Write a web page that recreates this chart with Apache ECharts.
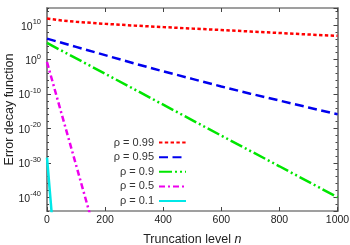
<!DOCTYPE html>
<html>
<head>
<meta charset="utf-8">
<script src="https://cdn.jsdelivr.net/npm/echarts@6/dist/echarts.min.js"></script>
<style>html,body{margin:0;padding:0;background:#fff;}#c{width:350px;height:245px;}</style>
</head>
<body>
<div id="c"></div>
<script>
// Truncation level n and log10 of the error decay function
const seriesNames = ['ρ = 0.99', 'ρ = 0.95', 'ρ = 0.9', 'ρ = 0.5', 'ρ = 0.1'];
const nRed = [0, 50, 100, 200, 300, 400, 500, 600, 700, 800, 900, 1000];
const expRed = [11.95, 11.4, 11.0, 10.4, 9.9, 9.45, 9.02, 8.6, 8.17, 7.74, 7.3, 6.9];
const nBlue = [0, 100, 200, 300, 400, 500, 600, 700, 800, 900, 1000];
const expBlue = [6.1, 3.7, 1.3, -1.1, -3.4, -5.6, -7.8, -9.9, -11.9, -13.9, -15.9];
const nGreen = [0, 200, 400, 600, 800, 1000];
const expGreen = [4.84, -4.1, -13.1, -22.1, -31.0, -40.0];
const nMagenta = [0, 50, 100, 150];
const expMagenta = [-0.7, -15.7, -30.6, -45.6];
const nCyan = [0, 10, 20];
const expCyan = [-28.5, -38.5, -48.5];
const xTicks = [0, 200, 400, 600, 800, 1000];

const pairs = (xs, ys) => xs.map((x, i) => [x, ys[i]]);
const FONT = 'Liberation Sans';
const axisColor = '#808080';

const styles = [
  {color: '#ff0000', type: [3.4, 2.4]},
  {color: '#0000ee', type: [9, 4.5]},
  {color: '#00e600', type: [13, 3, 2, 3, 2, 3]},
  {color: '#ee00ee', type: [6, 3, 2, 3]},
  {color: '#00e8e8', type: 'solid'}
];
const dataSets = [
  pairs(nRed, expRed), pairs(nBlue, expBlue), pairs(nGreen, expGreen),
  pairs(nMagenta, expMagenta), pairs(nCyan, expCyan)
];

const yMin = -44, yMax = 15;
const baseY = {
  type: 'value', min: yMin, max: yMax,
  axisLine: {show: true, onZero: false, lineStyle: {color: axisColor, width: 1.5}},
  splitLine: {show: false}
};
const baseX = {
  type: 'value', min: xTicks[0], max: xTicks[xTicks.length - 1], interval: 200,
  axisLine: {show: true, onZero: false, lineStyle: {color: axisColor, width: 1.5}},
  axisTick: {show: true, inside: true, length: 4, lineStyle: {color: '#444', width: 1}},
  splitLine: {show: false}
};
const chart = echarts.init(document.getElementById('c'), null, {renderer: 'canvas'});
chart.setOption({
  animation: false,
  backgroundColor: '#fff',
  grid: {left: 47, right: 12.5, top: 8, bottom: 34, containLabel: false, outerBoundsMode: 'none'},
  legend: {
    left: 97, top: 132, orient: 'vertical', align: 'right',
    itemWidth: 27, itemHeight: 14, itemGap: 3.4,
    data: seriesNames,
    itemStyle: {opacity: 0},
    formatter: name => '{t|' + name + '}',
    textStyle: {fontFamily: FONT, fontSize: 11, color: '#333',
      rich: {t: {width: 52, align: 'right', fontFamily: FONT, fontSize: 11, color: '#333', lineHeight: 14}}}
  },
  xAxis: [
    Object.assign({}, baseX, {
      position: 'bottom',
      name: 'Truncation level {i|n}', nameLocation: 'middle', nameGap: 22, nameMoveOverlap: false,
      nameTextStyle: {fontFamily: FONT, fontSize: 12.5, color: '#222',
        rich: {i: {fontStyle: 'italic', fontFamily: FONT, fontSize: 12.5, color: '#222'}}},
      axisLabel: {fontFamily: FONT, fontSize: 10.5, color: '#222', margin: 4, formatter: v => String(v)}
    }),
    Object.assign({}, baseX, {position: 'top', axisLabel: {show: false}})
  ],
  yAxis: [
    Object.assign({}, baseY, {
      position: 'left', splitNumber: 5,
      name: 'Error decay function', nameLocation: 'middle', nameGap: 31, nameRotate: 90, nameMoveOverlap: false,
      nameTextStyle: {fontFamily: FONT, fontSize: 12.5, color: '#222'},
      axisTick: {show: true, inside: true, length: 4, lineStyle: {color: '#444', width: 1}},
      axisLabel: {
        showMinLabel: false, showMaxLabel: false, margin: 6,
        formatter: v => '{b|10}{s|' + v + '}',
        rich: {
          b: {fontFamily: FONT, fontSize: 10.5, color: '#222', lineHeight: 14, verticalAlign: 'bottom'},
          s: {fontFamily: FONT, fontSize: 7.5, color: '#222', lineHeight: 14, verticalAlign: 'top'}
        }
      }
    }),
    Object.assign({}, baseY, {
      position: 'left', interval: 2,
      axisTick: {show: true, inside: true, length: 2, lineStyle: {color: '#444', width: 1}},
      axisLabel: {show: false}
    }),
    Object.assign({}, baseY, {
      position: 'right', splitNumber: 5,
      axisTick: {show: true, inside: true, length: 4, lineStyle: {color: '#444', width: 1}},
      axisLabel: {show: false}
    }),
    Object.assign({}, baseY, {
      position: 'right', interval: 2,
      axisTick: {show: true, inside: true, length: 2, lineStyle: {color: '#444', width: 1}},
      axisLabel: {show: false}
    })
  ],
  series: seriesNames.map((name, i) => ({
    name: name, type: 'line', xAxisIndex: 0, yAxisIndex: 0,
    data: dataSets[i], symbol: 'none', showSymbol: false, clip: true,
    color: styles[i].color,
    lineStyle: {color: styles[i].color, width: 2.5, type: styles[i].type, cap: 'butt'},
    z: 2 + i
  }))
});
</script>
</body>
</html>
